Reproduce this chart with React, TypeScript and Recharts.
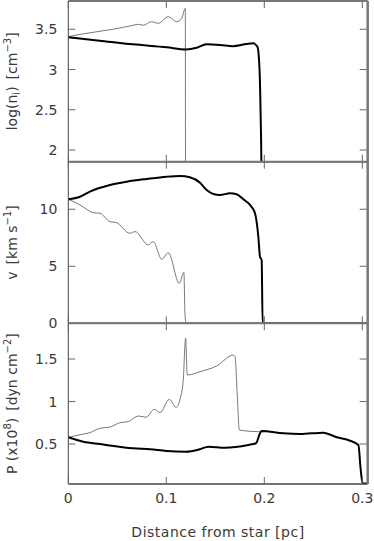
import React from 'react';
import { LineChart, Line, XAxis, YAxis } from 'recharts';

// Shared x axis
const xTicks = [0, 0.1, 0.2, 0.3];
const xDomain: [number, number] = [0, 0.3055];

// Panel 1: log(n_i)
const densityTicks = [2, 2.5, 3, 3.5];
const densityDomain: [number, number] = [1.855, 3.851];
const densityThick = [
  { x: 0, y: 3.40 }, { x: 0.032, y: 3.358 }, { x: 0.066, y: 3.313 }, { x: 0.1004, y: 3.276 },
  { x: 0.12, y: 3.25 }, { x: 0.131, y: 3.27 }, { x: 0.141, y: 3.313 }, { x: 0.155, y: 3.305 },
  { x: 0.168, y: 3.29 }, { x: 0.182, y: 3.317 }, { x: 0.189, y: 3.325 }, { x: 0.193, y: 3.283 },
  { x: 0.195, y: 3.035 }, { x: 0.1963, y: 2.41 }, { x: 0.197, y: 1.855 }, { x: 0.1975, y: 1.0 },
];
const densityThin = [
  { x: 0, y: 3.408 }, { x: 0.012, y: 3.437 }, { x: 0.0255, y: 3.462 }, { x: 0.0357, y: 3.482 },
  { x: 0.0459, y: 3.50 }, { x: 0.0561, y: 3.524 }, { x: 0.0647, y: 3.545 }, { x: 0.0714, y: 3.562 },
  { x: 0.0765, y: 3.55 }, { x: 0.085, y: 3.594 }, { x: 0.0918, y: 3.574 }, { x: 0.102, y: 3.656 },
  { x: 0.1106, y: 3.594 }, { x: 0.1157, y: 3.636 }, { x: 0.1194, y: 3.76 }, { x: 0.1196, y: 1.0 },
];

// Panel 2: velocity
const velocityTicks = [0, 5, 10];
const velocityDomain: [number, number] = [0, 14.17];
const velocityThick = [
  { x: 0, y: 10.88 }, { x: 0.012, y: 11.1 }, { x: 0.022, y: 11.55 }, { x: 0.0426, y: 12.13 },
  { x: 0.0596, y: 12.42 }, { x: 0.08, y: 12.66 }, { x: 0.1004, y: 12.86 }, { x: 0.114, y: 12.92 },
  { x: 0.124, y: 12.8 }, { x: 0.1344, y: 12.33 }, { x: 0.1412, y: 11.69 }, { x: 0.148, y: 11.34 },
  { x: 0.1548, y: 11.25 }, { x: 0.165, y: 11.4 }, { x: 0.1718, y: 11.31 }, { x: 0.1786, y: 10.87 },
  { x: 0.1854, y: 10.38 }, { x: 0.1905, y: 9.65 }, { x: 0.1939, y: 7.6 }, { x: 0.1956, y: 5.84 },
  { x: 0.1973, y: 5.55 }, { x: 0.1983, y: 0 }, { x: 0.3055, y: 0 },
];
const velocityThin = [
  { x: 0, y: 10.88 }, { x: 0.012, y: 10.38 }, { x: 0.0255, y: 9.7 }, { x: 0.0323, y: 9.65 },
  { x: 0.0426, y: 8.91 }, { x: 0.049, y: 8.83 }, { x: 0.063, y: 7.89 }, { x: 0.068, y: 8.04 },
  { x: 0.0816, y: 6.87 }, { x: 0.0867, y: 7.16 }, { x: 0.0953, y: 5.61 }, { x: 0.102, y: 6.19 },
  { x: 0.1133, y: 3.51 }, { x: 0.118, y: 4.47 }, { x: 0.119, y: 0.88 }, { x: 0.1201, y: 0 },
];

// Panel 3: pressure
const pressureTicks = [0.5, 1, 1.5];
const pressureDomain: [number, number] = [0.03, 1.92];
const pressureThick = [
  { x: 0, y: 0.579 }, { x: 0.0153, y: 0.528 }, { x: 0.0323, y: 0.5 }, { x: 0.0663, y: 0.45 },
  { x: 0.0834, y: 0.438 }, { x: 0.1004, y: 0.418 }, { x: 0.12, y: 0.41 }, { x: 0.134, y: 0.438 },
  { x: 0.1428, y: 0.469 }, { x: 0.16, y: 0.457 }, { x: 0.1837, y: 0.489 }, { x: 0.1915, y: 0.509 },
  { x: 0.1956, y: 0.626 }, { x: 0.1973, y: 0.653 }, { x: 0.2195, y: 0.626 }, { x: 0.2365, y: 0.618 },
  { x: 0.2602, y: 0.634 }, { x: 0.2739, y: 0.579 }, { x: 0.2875, y: 0.539 }, { x: 0.296, y: 0.489 },
  { x: 0.2984, y: 0.195 }, { x: 0.3004, y: 0.035 }, { x: 0.3045, y: 0.035 },
];
const pressureThin = [
  { x: 0, y: 0.579 }, { x: 0.012, y: 0.61 }, { x: 0.022, y: 0.634 }, { x: 0.0323, y: 0.685 },
  { x: 0.0426, y: 0.70 }, { x: 0.0527, y: 0.751 }, { x: 0.0612, y: 0.763 }, { x: 0.0714, y: 0.83 },
  { x: 0.0793, y: 0.815 }, { x: 0.0878, y: 0.909 }, { x: 0.0936, y: 0.869 }, { x: 0.1031, y: 1.026 },
  { x: 0.1099, y: 0.932 }, { x: 0.1147, y: 1.057 }, { x: 0.1173, y: 1.253 }, { x: 0.1197, y: 1.744 },
  { x: 0.1214, y: 1.312 }, { x: 0.1344, y: 1.351 }, { x: 0.1514, y: 1.418 }, { x: 0.1684, y: 1.547 },
  { x: 0.1701, y: 1.53 }, { x: 0.1725, y: 1.057 }, { x: 0.1745, y: 0.665 }, { x: 0.1854, y: 0.65 },
  { x: 0.1956, y: 0.645 }, { x: 0.1973, y: 0.653 },
];

const W = 374;
const H = 541;
const PLOT_LEFT = 68.3;
const PLOT_RIGHT = 367.7;
const FONT = 'DejaVu Sans';
const TEXT = '#3a3a3a';
const TICK_STROKE = '#666';
const TICK_LEN = 7;

type Part = { t: string; dy?: number; dx?: number; small?: boolean };

const labelParts1: Part[] = [
  { t: 'log(n' }, { t: 'i', dy: 3, small: true }, { t: ')', dy: -3 },
  { t: '[cm', dx: 7 }, { t: '\u22123', dy: -6, small: true }, { t: ']', dy: 6 },
];
const labelParts2: Part[] = [
  { t: 'v' }, { t: '[km s', dx: 7 }, { t: '\u22121', dy: -6, small: true }, { t: ']', dy: 6 },
];
const labelParts3: Part[] = [
  { t: 'P (x10' }, { t: '8', dy: -6, small: true }, { t: ')', dy: 6 },
  { t: '[dyn cm', dx: 7 }, { t: '\u22122', dy: -6, small: true }, { t: ']', dy: 6 },
];

// Tick renderers: inward tick marks, labels outside
const LeftTick = (props: any) => {
  const { y, payload } = props;
  const c = payload && typeof payload.coordinate === 'number' ? payload.coordinate : y;
  return (
    <g>
      <line x1={PLOT_LEFT} y1={c} x2={PLOT_LEFT + TICK_LEN} y2={c} stroke={TICK_STROKE} strokeWidth={1} />
      <text x={PLOT_LEFT - 11} y={c} dy={5} textAnchor="end" fontFamily={FONT} fontSize={14} fill={TEXT}>
        {payload.value}
      </text>
    </g>
  );
};
const RightTick = (props: any) => {
  const { y, payload } = props;
  const c = payload && typeof payload.coordinate === 'number' ? payload.coordinate : y;
  return <line x1={PLOT_RIGHT - 1} y1={c} x2={PLOT_RIGHT - 1 - TICK_LEN} y2={c} stroke={TICK_STROKE} strokeWidth={1} />;
};
const makeBottomTick = (axisY: number, showLabel: boolean) => (props: any) => {
  const { x, payload } = props;
  const c = payload && typeof payload.coordinate === 'number' ? payload.coordinate : x;
  return (
    <g>
      <line x1={c} y1={axisY} x2={c} y2={axisY - TICK_LEN} stroke={TICK_STROKE} strokeWidth={1} />
      {showLabel ? (
        <text x={c} y={axisY + 19} textAnchor="middle" fontFamily={FONT} fontSize={14} fill={TEXT}>
          {payload.value}
        </text>
      ) : null}
    </g>
  );
};
const makeTopTick = (axisY: number) => (props: any) => {
  const { x, payload } = props;
  const c = payload && typeof payload.coordinate === 'number' ? payload.coordinate : x;
  return <line x1={c} y1={axisY} x2={c} y2={axisY + TICK_LEN} stroke={TICK_STROKE} strokeWidth={1} />;
};

const makeYLabel = (parts: Part[], cy: number) => () => {
  const cx = 17;
  return (
    <text
      x={cx}
      y={cy}
      transform={`rotate(-90 ${cx} ${cy})`}
      textAnchor="middle"
      fontFamily={FONT}
      fontSize={14}
      fill={TEXT}
    >
      {parts.map((p, i) => (
        <tspan key={i} dy={p.dy || 0} dx={p.dx || 0} fontSize={p.small ? 10 : 14}>
          {p.t}
        </tspan>
      ))}
    </text>
  );
};

const XLabel = () => {
  const cx = (PLOT_LEFT + PLOT_RIGHT) / 2;
  return (
    <text x={cx} y={536.5} textAnchor="middle" fontFamily={FONT} fontSize={14} fill={TEXT} letterSpacing={0.5}>
      Distance from star [pc]
    </text>
  );
};

type PanelProps = {
  top: number;
  bottom: number;
  yDomain: [number, number];
  yTicks: number[];
  thick: { x: number; y: number }[];
  thin: { x: number; y: number }[];
  labelParts: Part[];
  showX: boolean;
};

function Panel({ top, bottom, yDomain, yTicks, thick, thin, labelParts, showX }: PanelProps) {
  return (
    <div style={{ position: 'absolute', left: 0, top: 0, width: W, height: H }}>
      <LineChart
        width={W}
        height={H}
        margin={{ top: top - 1, bottom: H - bottom - 1, left: 0, right: W - PLOT_RIGHT - 1 }}
      >
        <XAxis
          xAxisId="b"
          dataKey="x"
          type="number"
          domain={xDomain}
          ticks={xTicks}
          allowDataOverflow
          height={1}
          tickSize={0}
          tickLine={false}
          tick={makeBottomTick(bottom, showX)}
          axisLine={{ stroke: '#444', strokeWidth: 1.5 }}
          label={showX ? { content: XLabel } : undefined}
        />
        <XAxis
          xAxisId="t"
          orientation="top"
          dataKey="x"
          type="number"
          domain={xDomain}
          ticks={xTicks}
          allowDataOverflow
          height={1}
          tickSize={0}
          tickLine={false}
          tick={makeTopTick(top)}
          axisLine={{ stroke: '#777', strokeWidth: 2 }}
        />
        <YAxis
          yAxisId="l"
          type="number"
          domain={yDomain}
          ticks={yTicks}
          allowDataOverflow
          width={PLOT_LEFT}
          tickSize={0}
          tickLine={false}
          tick={LeftTick}
          axisLine={{ stroke: '#444', strokeWidth: 1 }}
          label={{ content: makeYLabel(labelParts, (top + bottom) / 2) }}
        />
        <YAxis
          yAxisId="r"
          orientation="right"
          type="number"
          domain={yDomain}
          ticks={yTicks}
          allowDataOverflow
          width={1}
          tickSize={0}
          tickLine={false}
          tick={RightTick}
          axisLine={{ stroke: '#777', strokeWidth: 2.5 }}
        />
        <Line
          xAxisId="b"
          yAxisId="l"
          data={thin}
          dataKey="y"
          type="monotone"
          stroke="#777"
          strokeWidth={1}
          dot={false}
          isAnimationActive={false}
        />
        <Line
          xAxisId="b"
          yAxisId="l"
          data={thick}
          dataKey="y"
          type="monotone"
          stroke="#000"
          strokeWidth={2}
          dot={false}
          isAnimationActive={false}
        />
      </LineChart>
    </div>
  );
}

export default function App() {
  return (
    <div style={{ position: 'absolute', left: 0, top: 0, width: W, height: H, background: '#fff' }}>
      <Panel top={1} bottom={161.7} yDomain={densityDomain} yTicks={densityTicks}
        thick={densityThick} thin={densityThin} labelParts={labelParts1} showX={false} />
      <Panel top={161.7} bottom={323.3} yDomain={velocityDomain} yTicks={velocityTicks}
        thick={velocityThick} thin={velocityThin} labelParts={labelParts2} showX={false} />
      <Panel top={323.3} bottom={484} yDomain={pressureDomain} yTicks={pressureTicks}
        thick={pressureThick} thin={pressureThin} labelParts={labelParts3} showX={true} />
    </div>
  );
}
